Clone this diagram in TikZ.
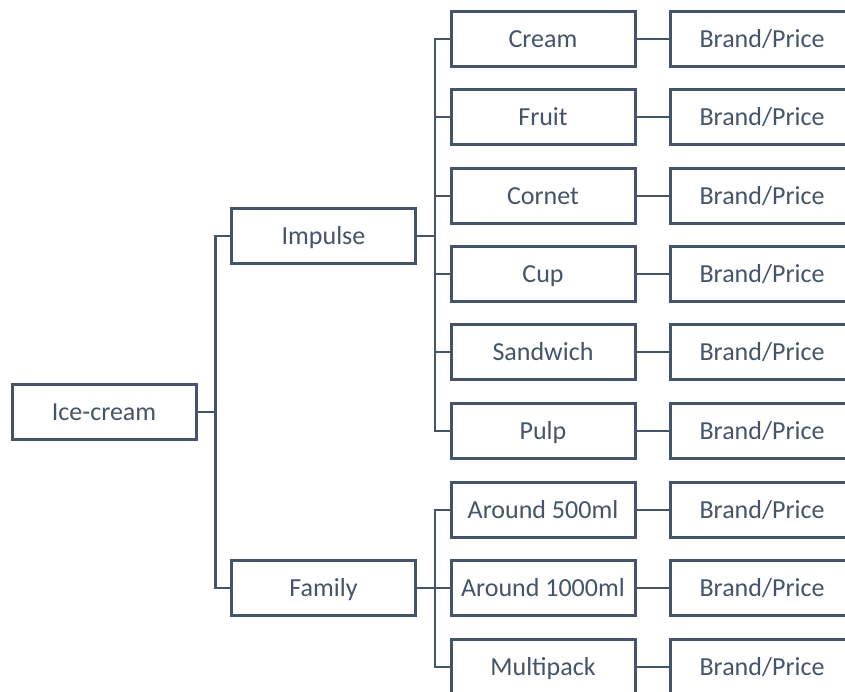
\documentclass[tikz,border=0pt]{standalone}
\usepackage{fontspec}
\setmainfont{Carlito}
\definecolor{slate}{HTML}{44546A}
\begin{document}
\begin{tikzpicture}[x=1pt,y=-1pt,
  box/.style={draw=slate,line width=3pt,fill=white,minimum width=184pt,minimum height=55pt,inner sep=0pt,
    text=slate,font=\fontsize{26}{30}\selectfont,text height=20pt,text depth=4pt},
  conn/.style={draw=slate,line width=2.4pt}]
\useasboundingbox (0,0) rectangle (845,691);
\clip (0,0) rectangle (845,691);
\node[box] (ice) at (104,412) {Ice-cream};
\node[box] (imp) at (323.5,236) {Impulse};
\node[box] (fam) at (323.5,588) {Family};
\foreach \n/\t/\y in {c1/Cream/39, c2/Fruit/117, c3/Cornet/196, c4/Cup/274, c5/Sandwich/352, c6/Pulp/431,
                      c7/Around 500ml/510, c8/Around 1000ml/588, c9/Multipack/667}{
  \node[box] (\n) at (543,\y) {\t};
  \node[box] (b\n) at (762,\y) {Brand/Price};
  \draw[conn] (\n.east) -- (b\n.west);
}
\draw[conn] (ice.east) -- ++(18,0) |- (imp.west);
\draw[conn] (ice.east) -- ++(18,0) |- (fam.west);
\foreach \n in {c1,c2,c3,c4,c5,c6}{
  \draw[conn] (imp.east) -- ++(18,0) |- (\n.west);
}
\foreach \n in {c7,c8,c9}{
  \draw[conn] (fam.east) -- ++(18,0) |- (\n.west);
}
\end{tikzpicture}
\end{document}
